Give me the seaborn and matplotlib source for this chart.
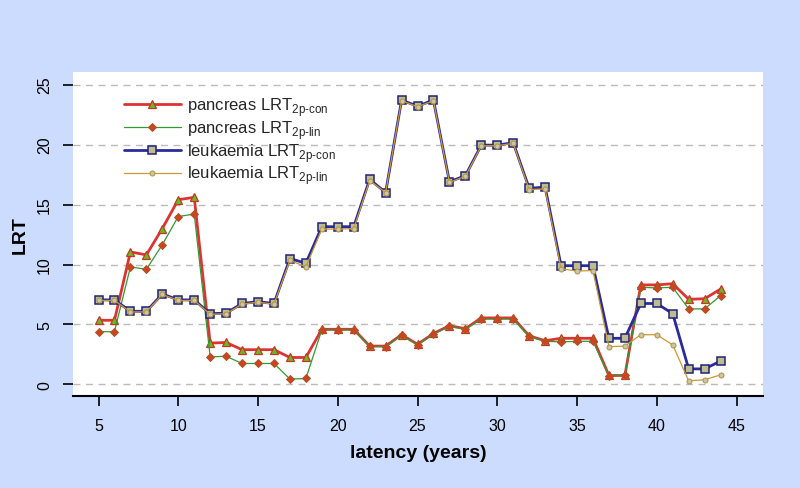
import numpy as np
import pandas as pd
import matplotlib
matplotlib.use("Agg")
import matplotlib.pyplot as plt
import seaborn as sns
from matplotlib.lines import Line2D

latency = list(range(5, 45))
pancreas_con = [5.35, 5.35, 11.05, 10.8, 13.0, 15.4, 15.6, 3.45, 3.5, 2.9,
                2.9, 2.9, 2.25, 2.25, 4.6, 4.6, 4.6, 3.2, 3.2, 4.15,
                3.35, 4.25, 4.9, 4.65, 5.55, 5.55, 5.55, 4.05, 3.65, 3.85,
                3.85, 3.85, 0.75, 0.75, 8.3, 8.3, 8.4, 7.1, 7.15, 7.95]
pancreas_lin = [4.4, 4.4, 9.8, 9.6, 11.65, 14.0, 14.2, 2.3, 2.35, 1.75,
                1.75, 1.75, 0.45, 0.5, 4.55, 4.55, 4.55, 3.2, 3.15, 4.1,
                3.3, 4.2, 4.85, 4.6, 5.45, 5.45, 5.45, 4.0, 3.6, 3.55,
                3.6, 3.6, 0.72, 0.78, 8.1, 8.05, 8.1, 6.3, 6.3, 7.4]
leuk_con = [7.05, 7.05, 6.1, 6.1, 7.55, 7.05, 7.05, 5.9, 5.95, 6.75,
            6.9, 6.75, 10.5, 10.1, 13.15, 13.15, 13.15, 17.1, 16.0, 23.7,
            23.2, 23.7, 16.9, 17.4, 19.95, 19.95, 20.15, 16.35, 16.45, 9.9,
            9.9, 9.9, 3.85, 3.85, 6.75, 6.75, 5.9, 1.3, 1.3, 1.95]
leuk_lin = [7.0, 7.0, 6.05, 6.05, 7.5, 7.0, 7.0, 5.85, 5.9, 6.7,
            6.85, 6.7, 10.35, 9.8, 12.95, 12.95, 13.0, 17.0, 16.0, 23.65,
            23.15, 23.65, 16.85, 17.35, 19.9, 19.9, 20.1, 16.25, 16.3, 9.65,
            9.45, 9.5, 3.15, 3.2, 4.15, 4.15, 3.3, 0.3, 0.4, 0.8]

labels = ["pancreas LRT$_{\\text{2p-con}}$", "pancreas LRT$_{\\text{2p-lin}}$",
          "leukaemia LRT$_{\\text{2p-con}}$", "leukaemia LRT$_{\\text{2p-lin}}$"]
yticks = [0, 5, 10, 15, 20, 25]
xticks = [5, 10, 15, 20, 25, 30, 35, 40, 45]

sns.set_theme(style="white")
plt.rcParams['font.family'] = ['Liberation Sans', 'DejaVu Sans']
plt.rcParams['axes.unicode_minus'] = False
plt.rcParams['mathtext.fontset'] = 'custom'
plt.rcParams['mathtext.rm'] = 'Liberation Sans'

bg = '#CCDCFF'
fig = plt.figure(figsize=(8, 4.89), dpi=100, facecolor=bg)
ax = fig.add_axes([73/800, 1-397/489, (763-73)/800, (397-72.7)/489])
ax.set_facecolor('white')

styles = [
    dict(color='#DD3333', lw=2.0, marker='^', ms=6, mfc='#66BB22', mec='#CC3322', mew=0.9),
    dict(color='#339933', lw=0.9, marker='D', ms=4.2, mfc='#CC4422', mec='#AA5522', mew=0.7),
    dict(color='#2B2B99', lw=2.0, marker='s', ms=5.2, mfc='#BDBD8F', mec='#22227A', mew=1.1),
    dict(color='#CC9933', lw=0.9, marker='o', ms=3.6, mfc='#C8C8A8', mec='#B09040', mew=0.7),
]
series = [pancreas_con, pancreas_lin, leuk_con, leuk_lin]

for ys_, st, lab in zip(series, styles, labels):
    df = pd.DataFrame({'latency': latency, 'LRT': ys_})
    sns.lineplot(data=df, x='latency', y='LRT', ax=ax, color=st['color'], linewidth=st['lw'],
                 marker=st['marker'], markersize=st['ms'], markerfacecolor=st['mfc'],
                 markeredgecolor=st['mec'], markeredgewidth=st['mew'], legend=False)

ax.set_xlim(3.4, 46.66)
ax.set_ylim(-0.96, 26.07)
ax.set_xticks(xticks)
ax.set_yticks(yticks)
ax.set_yticklabels([str(v) for v in yticks], rotation=90, va='center')
ax.yaxis.grid(True, color='#BBBBBB', linestyle=(0, (5, 4)), linewidth=1.0)
ax.xaxis.grid(False)
ax.set_axisbelow(True)
for s in ['left', 'top', 'right']:
    ax.spines[s].set_visible(False)
ax.spines['bottom'].set_color('black')
ax.spines['bottom'].set_linewidth(1.5)
ax.tick_params(axis='both', which='major', direction='out', length=7, width=1.2,
               color='black', labelsize=11.5, labelcolor='black', bottom=True, left=True)
ax.tick_params(axis='x', pad=9)
ax.tick_params(axis='y', pad=8)

ax.set_xlabel('latency (years)', fontsize=14, fontweight='bold', color='black', labelpad=8)
ax.set_ylabel('LRT', fontsize=14, fontweight='bold', color='black', labelpad=6)

handles = [Line2D([0], [0], color=st['color'], lw=st['lw'], marker=st['marker'], ms=st['ms'],
                  mfc=st['mfc'], mec=st['mec'], mew=st['mew']) for st in styles]
leg = ax.legend(handles, labels, loc='upper left', bbox_to_anchor=(0.052, 0.975), frameon=False,
                fontsize=12, handlelength=3.4, handletextpad=0.4, labelspacing=0.0)

fig.savefig('out.png', dpi=100, facecolor=bg)
